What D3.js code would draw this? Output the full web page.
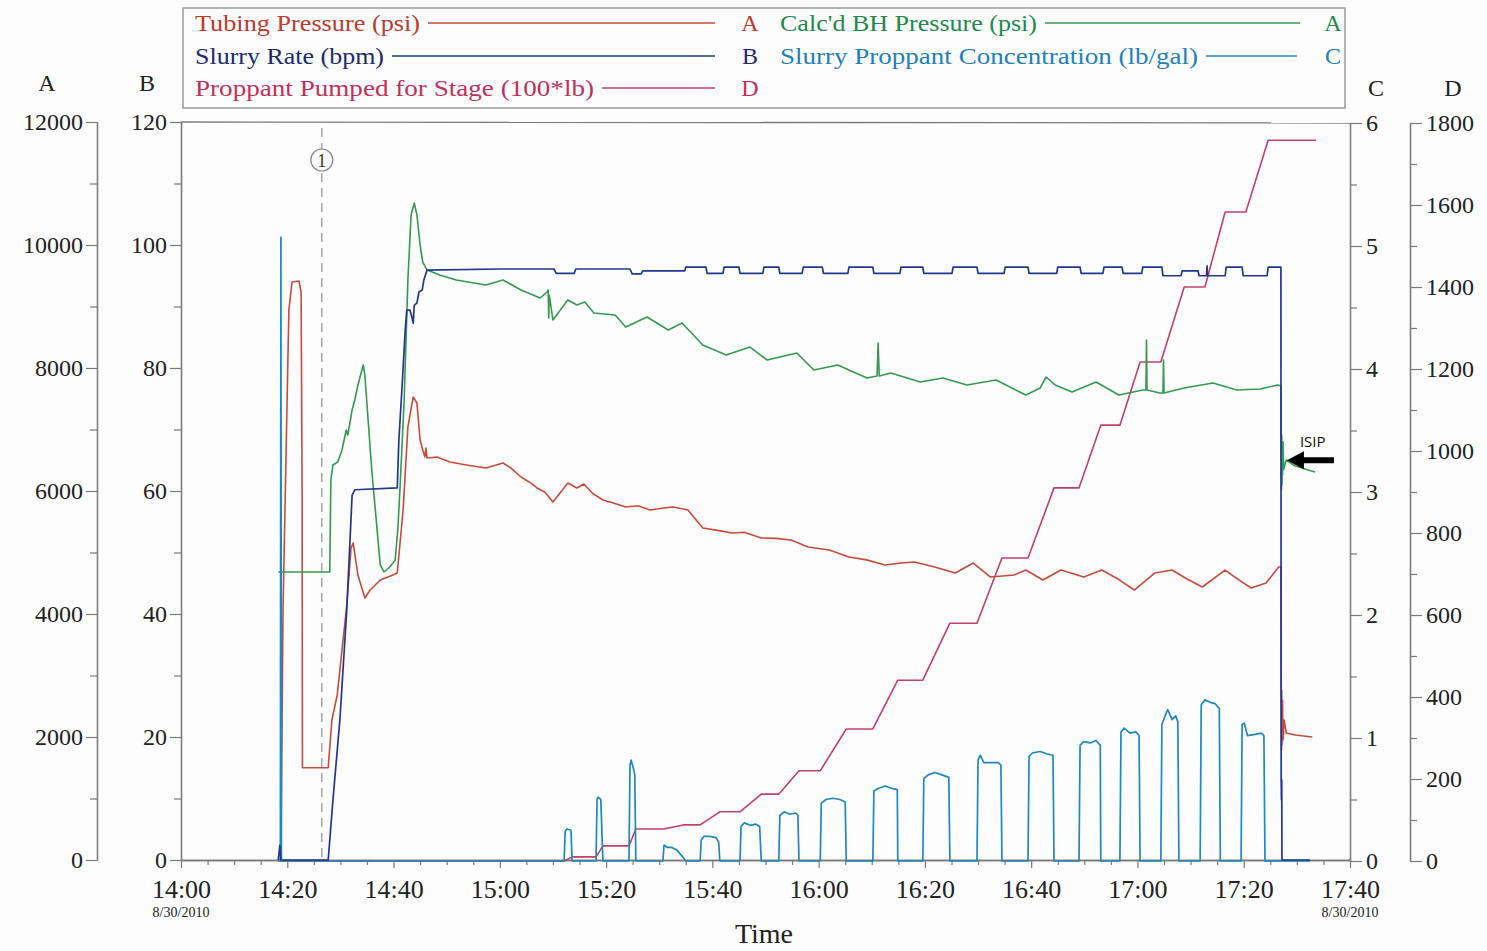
<!DOCTYPE html>
<html><head><meta charset="utf-8">
<script src="https://cdn.jsdelivr.net/npm/d3@7"></script>
<style>
body{margin:0;background:#fdfdfd;}
svg{display:block;}
</style></head><body>
<svg id="chart" width="1487" height="951"></svg>
<script>
// ---------------- DATA (minutes after 14:00, value) ----------------
const seriesNames = ["Tubing Pressure (psi)", "Slurry Rate (bpm)", "Proppant Pumped for Stage (100*lb)",
                     "Calc'd BH Pressure (psi)", "Slurry Proppant Concentration (lb/gal)"];
const seriesAxes = ["A", "B", "D", "A", "C"];
const axisLetters = ["A", "B", "C", "D"];
const ticksA = [0, 2000, 4000, 6000, 8000, 10000, 12000];
const ticksB = [0, 20, 40, 60, 80, 100, 120];
const ticksC = [0, 1, 2, 3, 4, 5, 6];
const ticksD = [0, 200, 400, 600, 800, 1000, 1200, 1400, 1600, 1800];
const timeTickMinutes = [0, 20, 40, 60, 80, 100, 120, 140, 160, 180, 200, 220];
const dateLabel = "8/30/2010";
const eventMinute = 26.5;
const isipMinute = 207.0, isipValue = 6500;

const tubingPressure = [[18.5,0],[18.8,0],[19.2,4065],[20.3,8943],[20.9,9398],[22.2,9415],[22.6,9236],[22.8,5854],[22.85,1500],[27.7,1500],[28.4,2276],[29.4,2683],[30.3,3415],[31.2,4146],[32.0,5073],[32.4,5154],[33.3,4634],[34.6,4260],[35.6,4390],[37.5,4553],[39.9,4634],[40.7,4667],[41.8,5691],[42.7,7041],[43.7,7528],[44.4,7431],[45.0,6829],[45.5,6667],[45.9,6553],[46.1,6700],[46.3,6537],[48.2,6553],[50.6,6471],[54.0,6420],[57.4,6374],[60.6,6455],[62.0,6380],[64.0,6228],[66.0,6120],[67.0,6050],[68.5,5980],[70.0,5821],[72.8,6130],[74.5,6049],[75.8,6114],[77.5,5960],[79.4,5854],[81.5,5800],[83.7,5740],[86.0,5760],[88.3,5691],[90.5,5720],[92.6,5740],[95.4,5691],[98.2,5398],[101.0,5360],[103.7,5317],[106.0,5330],[109.2,5236],[112.0,5230],[114.8,5203],[118.0,5089],[122.0,5040],[125.7,4927],[129.0,4880],[132.5,4797],[135.5,4830],[138.0,4845],[142.0,4760],[145.7,4667],[149.1,4829],[152.3,4602],[156.8,4634],[159.0,4715],[162.2,4553],[165.6,4715],[169.9,4602],[173.3,4715],[176.5,4560],[179.4,4390],[183.3,4667],[186.5,4715],[189.5,4560],[192.2,4439],[196.5,4715],[199.0,4560],[201.4,4423],[204.2,4504],[206.6,4764],[207.0,4764],[207.05,2927],[207.1,1789],[207.15,2764],[207.2,1870],[207.3,2600],[207.4,1950],[207.6,2276],[208.0,2065],[209.7,2033],[212.9,2000]];

const calcBHPressure = [[18.3,4683],[28.0,4683],[28.2,6179],[28.6,6423],[29.5,6471],[30.3,6667],[31.1,6992],[31.4,6911],[32.2,7317],[32.7,7480],[33.3,7724],[34.3,8049],[34.6,7886],[35.9,6341],[37.5,4797],[38.2,4683],[39.3,4764],[40.3,4878],[40.8,5366],[41.2,6016],[42.0,7480],[42.7,9431],[43.3,10488],[43.9,10683],[44.4,10488],[45.0,10000],[45.5,9723],[46.3,9593],[48.7,9512],[51.8,9431],[57.4,9350],[60.6,9431],[64.0,9268],[67.6,9138],[68.9,9236],[69.1,9268],[69.2,8813],[69.3,9187],[70.0,8780],[72.8,9106],[74.5,9024],[76.0,9073],[77.7,8894],[81.7,8862],[83.7,8667],[87.7,8829],[91.7,8618],[94.3,8732],[98.2,8374],[102.6,8211],[107.1,8341],[110.3,8130],[115.9,8244],[119.1,7967],[123.6,8049],[129.1,7837],[131.0,7870],[131.2,8406],[131.4,7870],[133.6,7919],[139.1,7772],[143.4,7837],[147.9,7724],[153.4,7805],[159.0,7561],[161.7,7675],[162.8,7854],[164.5,7724],[167.7,7610],[172.2,7772],[176.5,7561],[181.0,7642],[181.6,7642],[181.7,8455],[181.8,7642],[184.2,7593],[184.8,7593],[184.9,8130],[185.0,7593],[188.8,7675],[194.2,7756],[198.7,7642],[203.1,7659],[206.4,7724],[207.0,7707],[207.05,6829],[207.1,6016],[207.15,6911],[207.2,6098],[207.25,6667],[207.3,6260],[207.4,6800],[207.5,6350],[208.0,6504],[209.7,6406],[213.4,6309]];

const slurryRate = [[18.3,0],[18.6,2.4],[18.8,0],[27.7,0],[28.6,9.8],[29.9,22.8],[31.2,40.7],[32.2,59.3],[32.7,60.2],[40.7,60.5],[41.0,68.3],[41.6,76.9],[42.2,86.2],[42.5,89.4],[43.1,89.4],[43.5,88.1],[43.7,87.3],[43.9,90.2],[44.4,90.6],[44.8,92.4],[45.4,92.7],[45.7,94.3],[46.3,95.9],[60.0,96.1],[70.2,96.1],[70.6,95.4],[74.0,95.4],[74.3,96.1],[84.5,96.1],[84.9,95.3],[86.6,95.3],[86.9,95.8],[94.8,95.8],[95.0,96.4],[98.8,96.4],[99.0,95.4],[102.0,95.4],[102.2,96.4],[105.0,96.4],[105.2,95.4],[109.5,95.4],[109.7,96.4],[112.5,96.4],[112.7,95.4],[116.9,95.4],[117.1,96.4],[120.7,96.4],[120.9,95.4],[125.5,95.4],[125.7,96.4],[130.2,96.4],[130.4,95.4],[135.3,95.4],[135.5,96.4],[139.6,96.4],[139.8,95.4],[145.1,95.4],[145.3,96.4],[149.8,96.4],[150.0,95.4],[154.9,95.4],[155.1,96.4],[159.4,96.4],[159.6,95.4],[164.8,95.4],[165.0,96.4],[169.2,96.4],[169.4,95.4],[173.5,95.4],[173.7,96.4],[177.1,96.4],[177.3,95.4],[180.8,95.4],[181.0,96.4],[184.6,96.4],[184.8,95.0],[188.2,95.0],[188.4,95.8],[191.4,95.8],[191.6,95.0],[193.0,95.0],[193.1,96.6],[193.2,95.0],[196.5,95.0],[196.7,96.4],[199.7,96.4],[199.9,95.0],[204.4,95.0],[204.6,96.4],[207.0,96.4],[207.05,13.0],[207.1,9.8],[207.15,13.0],[207.2,0],[212.5,0]];

const proppantConc = [[18.3,0],[18.7,0],[18.8,5.07],[18.9,0],[72.1,0],[72.3,0.24],[72.6,0.26],[73.4,0.25],[73.6,0],[78.1,0],[78.3,0.5],[78.5,0.52],[79.0,0.5],[79.4,0],[84.3,0],[84.5,0.78],[84.7,0.82],[85.1,0.76],[85.4,0.7],[85.6,0],[90.7,0],[90.9,0.13],[91.5,0.11],[92.4,0.11],[93.3,0.09],[94.3,0.04],[95.0,0],[97.7,0],[97.9,0.17],[98.4,0.2],[99.5,0.2],[100.7,0.19],[101.2,0.15],[101.4,0],[105.2,0],[105.4,0.28],[106.0,0.31],[107.1,0.29],[108.2,0.3],[108.9,0.28],[109.2,0],[112.5,0],[112.7,0.37],[113.5,0.4],[114.6,0.38],[115.7,0.39],[116.1,0.37],[116.3,0],[120.3,0],[120.5,0.47],[121.4,0.5],[122.7,0.51],[124.0,0.5],[125.0,0.48],[125.2,0],[130.2,0],[130.4,0.57],[131.2,0.59],[132.5,0.61],[133.8,0.59],[134.8,0.58],[134.9,0],[139.6,0],[139.8,0.67],[140.6,0.7],[141.9,0.72],[143.2,0.7],[144.5,0.68],[144.7,0],[149.8,0],[150.0,0.82],[150.4,0.86],[151.1,0.8],[152.3,0.8],[153.8,0.8],[154.3,0.78],[154.5,0],[159.4,0],[159.6,0.85],[160.3,0.88],[161.7,0.89],[163.0,0.87],[164.1,0.86],[164.3,0],[169.0,0],[169.2,0.94],[169.9,0.97],[171.1,0.96],[172.2,0.98],[173.0,0.94],[173.1,0],[176.7,0],[176.9,1.05],[177.5,1.08],[178.6,1.04],[179.7,1.05],[180.3,1.02],[180.5,0],[184.4,0],[184.6,1.11],[185.2,1.18],[185.7,1.23],[186.5,1.15],[187.2,1.18],[187.6,1.13],[187.8,0],[191.8,0],[192.0,1.27],[192.7,1.31],[193.7,1.29],[194.6,1.28],[195.4,1.24],[195.6,0],[199.5,0],[199.7,1.11],[200.1,1.12],[200.7,1.02],[202.1,1.03],[203.3,1.04],[203.8,1.02],[204.0,0],[212.5,0]];

const proppantPumped = [[18.3,0],[72.1,0],[73.6,10],[78.1,10],[79.4,37],[84.3,37],[85.6,78],[90.9,78],[94.5,88],[97.7,88],[101.4,120],[105.2,120],[109.2,163],[112.5,163],[116.3,220],[120.3,220],[125.2,322],[130.2,322],[134.9,441],[139.6,441],[144.7,580],[149.8,580],[154.5,739],[159.4,739],[164.3,910],[169.0,910],[173.1,1063],[176.7,1063],[180.5,1217],[184.4,1217],[188.8,1400],[192.7,1400],[196.5,1583],[200.4,1583],[204.6,1758],[213.6,1758]];

// ---------------- LAYOUT / STYLE ----------------
const W = 1487, H = 951;
const colors = {tubing:"#c84b3a", rate:"#22388e", pumped:"#c4406a", bh:"#349a50", conc:"#2088bf"};
const textColors = {tubing:"#c0392b", rate:"#1c2a6e", pumped:"#c2305a", bh:"#1e8a4a", conc:"#1f80b8"};
const serif = "'Liberation Serif','Times New Roman',serif";
const axisCol = "#7a7a7a";

const svg = d3.select("#chart");
svg.append("rect").attr("width", W).attr("height", H).attr("fill", "#fdfdfd");

const t0 = new Date(2010, 7, 30, 14, 0, 0);
const toDate = m => new Date(t0.getTime() + m * 60000);
const x = d3.scaleTime().domain([toDate(0), toDate(220)]).range([181, 1350]);
const yA = d3.scaleLinear().domain([0, 12000]).range([860, 122]);
const yB = d3.scaleLinear().domain([0, 120]).range([860, 122]);
const yC = d3.scaleLinear().domain([0, 6]).range([861, 123]);
const yD = d3.scaleLinear().domain([0, 1800]).range([861, 123]);

function styleAxis(g, fontSize) {
  g.select(".domain").attr("stroke", axisCol).attr("stroke-width", 1.3);
  g.selectAll(".tick line").attr("stroke", axisCol).attr("stroke-width", 1.2);
  g.selectAll(".tick text").attr("fill", "#222").style("font-family", serif).style("font-size", fontSize + "px");
}
function minorsOf(ticks) {
  const out = [];
  for (let i = 0; i < ticks.length - 1; i++) out.push((ticks[i] + ticks[i + 1]) / 2);
  return out;
}

// Left axes
[[yA, ticksA, 97], [yB, ticksB, 181]].forEach(([sc, tv, px]) => {
  const gm = svg.append("g").attr("transform", `translate(${px},0)`)
    .call(d3.axisLeft(sc).tickValues(minorsOf(tv)).tickSize(7).tickSizeOuter(0).tickFormat(""));
  styleAxis(gm, 24);
  const g = svg.append("g").attr("transform", `translate(${px},0)`)
    .call(d3.axisLeft(sc).tickValues(tv).tickSize(11).tickSizeOuter(0).tickPadding(3).tickFormat(d3.format("d")));
  styleAxis(g, 24);
});
// Right axes
[[yC, ticksC, 1350], [yD, ticksD, 1410]].forEach(([sc, tv, px]) => {
  const gm = svg.append("g").attr("transform", `translate(${px},0)`)
    .call(d3.axisRight(sc).tickValues(minorsOf(tv)).tickSize(7).tickSizeOuter(0).tickFormat(""));
  styleAxis(gm, 24);
  const g = svg.append("g").attr("transform", `translate(${px},0)`)
    .call(d3.axisRight(sc).tickValues(tv).tickSize(12).tickSizeOuter(0).tickPadding(4).tickFormat(d3.format("d")));
  styleAxis(g, 24);
});

// Top border
svg.append("line").attr("x1", 181).attr("x2", 1350).attr("y1", yB(120)).attr("y2", yC(6))
  .attr("stroke", axisCol).attr("stroke-width", 1.3);

// X axis
const minorMin = d3.range(0, 221, 5).filter(m => m % 20 !== 0);
const gxm = svg.append("g").attr("transform", "translate(0,860)")
  .call(d3.axisBottom(x).tickValues(minorMin.map(toDate)).tickSize(5).tickSizeOuter(0).tickFormat(""));
styleAxis(gxm, 26);
const gx = svg.append("g").attr("transform", "translate(0,860)")
  .call(d3.axisBottom(x).tickValues(timeTickMinutes.map(toDate)).tickSize(8).tickSizeOuter(0)
    .tickPadding(12).tickFormat(d3.timeFormat("%H:%M")));
styleAxis(gx, 26);
[0, 220].forEach(m => {
  svg.append("text").attr("x", x(toDate(m))).attr("y", 917).attr("text-anchor", "middle")
    .style("font-family", serif).style("font-size", "14px").attr("fill", "#222").text(dateLabel);
});
svg.append("text").attr("x", 764).attr("y", 943).attr("text-anchor", "middle")
  .style("font-family", serif).style("font-size", "28px").attr("fill", "#222").text("Time");

// Axis letters
[[47, 91], [147, 91], [1376, 96], [1453, 96]].forEach((p, i) => {
  svg.append("text").attr("x", p[0]).attr("y", p[1]).attr("text-anchor", "middle")
    .style("font-family", serif).style("font-size", "24px").attr("fill", "#222").text(axisLetters[i]);
});

// Event marker 1
const ex = x(toDate(eventMinute));
svg.append("line").attr("x1", ex).attr("x2", ex).attr("y1", 128).attr("y2", 860)
  .attr("stroke", "#9a9a9a").attr("stroke-width", 1.3).attr("stroke-dasharray", "9,6");
svg.append("circle").attr("cx", ex).attr("cy", 160).attr("r", 11)
  .attr("fill", "#fdfdfd").attr("stroke", "#888").attr("stroke-width", 1.2);
svg.append("text").attr("x", ex).attr("y", 166.5).attr("text-anchor", "middle")
  .style("font-family", serif).style("font-size", "18px").attr("fill", "#333").text("1");

// Series lines
const mk = (ys) => d3.line().x(d => x(toDate(d[0]))).y(d => ys(d[1]));
const drawSeries = (data, ys, col, w) => svg.append("path").datum(data)
  .attr("d", mk(ys)).attr("fill", "none").attr("stroke", col).attr("stroke-width", w)
  .attr("stroke-linejoin", "round");
drawSeries(proppantPumped, yD, colors.pumped, 1.6);
drawSeries(tubingPressure, yA, colors.tubing, 1.6);
drawSeries(calcBHPressure, yA, colors.bh, 1.6);
drawSeries(proppantConc, yC, colors.conc, 1.7);
drawSeries(slurryRate, yB, colors.rate, 1.7);

// ISIP annotation
const ax = x(toDate(isipMinute)) + 6, ay = yA(isipValue);
svg.append("path")
  .attr("d", `M${ax},${ay} L${ax+17},${ay-9} L${ax+17},${ay-3} L${ax+47},${ay-3} L${ax+47},${ay+3} L${ax+17},${ay+3} L${ax+17},${ay+9} Z`)
  .attr("fill", "#000");
svg.append("text").attr("x", ax + 13).attr("y", ay - 13)
  .style("font-family", "'Open Sans','DejaVu Sans',sans-serif").style("font-size", "15px").attr("fill", "#111").text("ISIP");

// Legend
svg.append("rect").attr("x", 183).attr("y", 8).attr("width", 1162).attr("height", 100)
  .attr("fill", "none").attr("stroke", "#9a9a9a").attr("stroke-width", 1.5);
const legendLayout = [
  {i:0, key:"tubing", tx:195, base:31, w:225, lx2:715, lx:750},
  {i:1, key:"rate",   tx:195, base:64, w:189, lx2:715, lx:750},
  {i:2, key:"pumped", tx:195, base:96, w:399, lx2:715, lx:750},
  {i:3, key:"bh",     tx:780, base:31, w:257, lx2:1300, lx:1333},
  {i:4, key:"conc",   tx:780, base:64, w:418, lx2:1297, lx:1333}
];
legendLayout.forEach(L => {
  svg.append("text").attr("x", L.tx).attr("y", L.base)
    .attr("textLength", L.w).attr("lengthAdjust", "spacingAndGlyphs")
    .style("font-family", serif).style("font-size", "24px").attr("fill", textColors[L.key])
    .text(seriesNames[L.i]);
  svg.append("line").attr("x1", L.tx + L.w + 8).attr("x2", L.lx2).attr("y1", L.base - 8).attr("y2", L.base - 8)
    .attr("stroke", colors[L.key]).attr("stroke-width", 1.6);
  svg.append("text").attr("x", L.lx).attr("y", L.base).attr("text-anchor", "middle")
    .style("font-family", serif).style("font-size", "24px").attr("fill", textColors[L.key])
    .text(seriesAxes[L.i]);
});
</script>
</body></html>
